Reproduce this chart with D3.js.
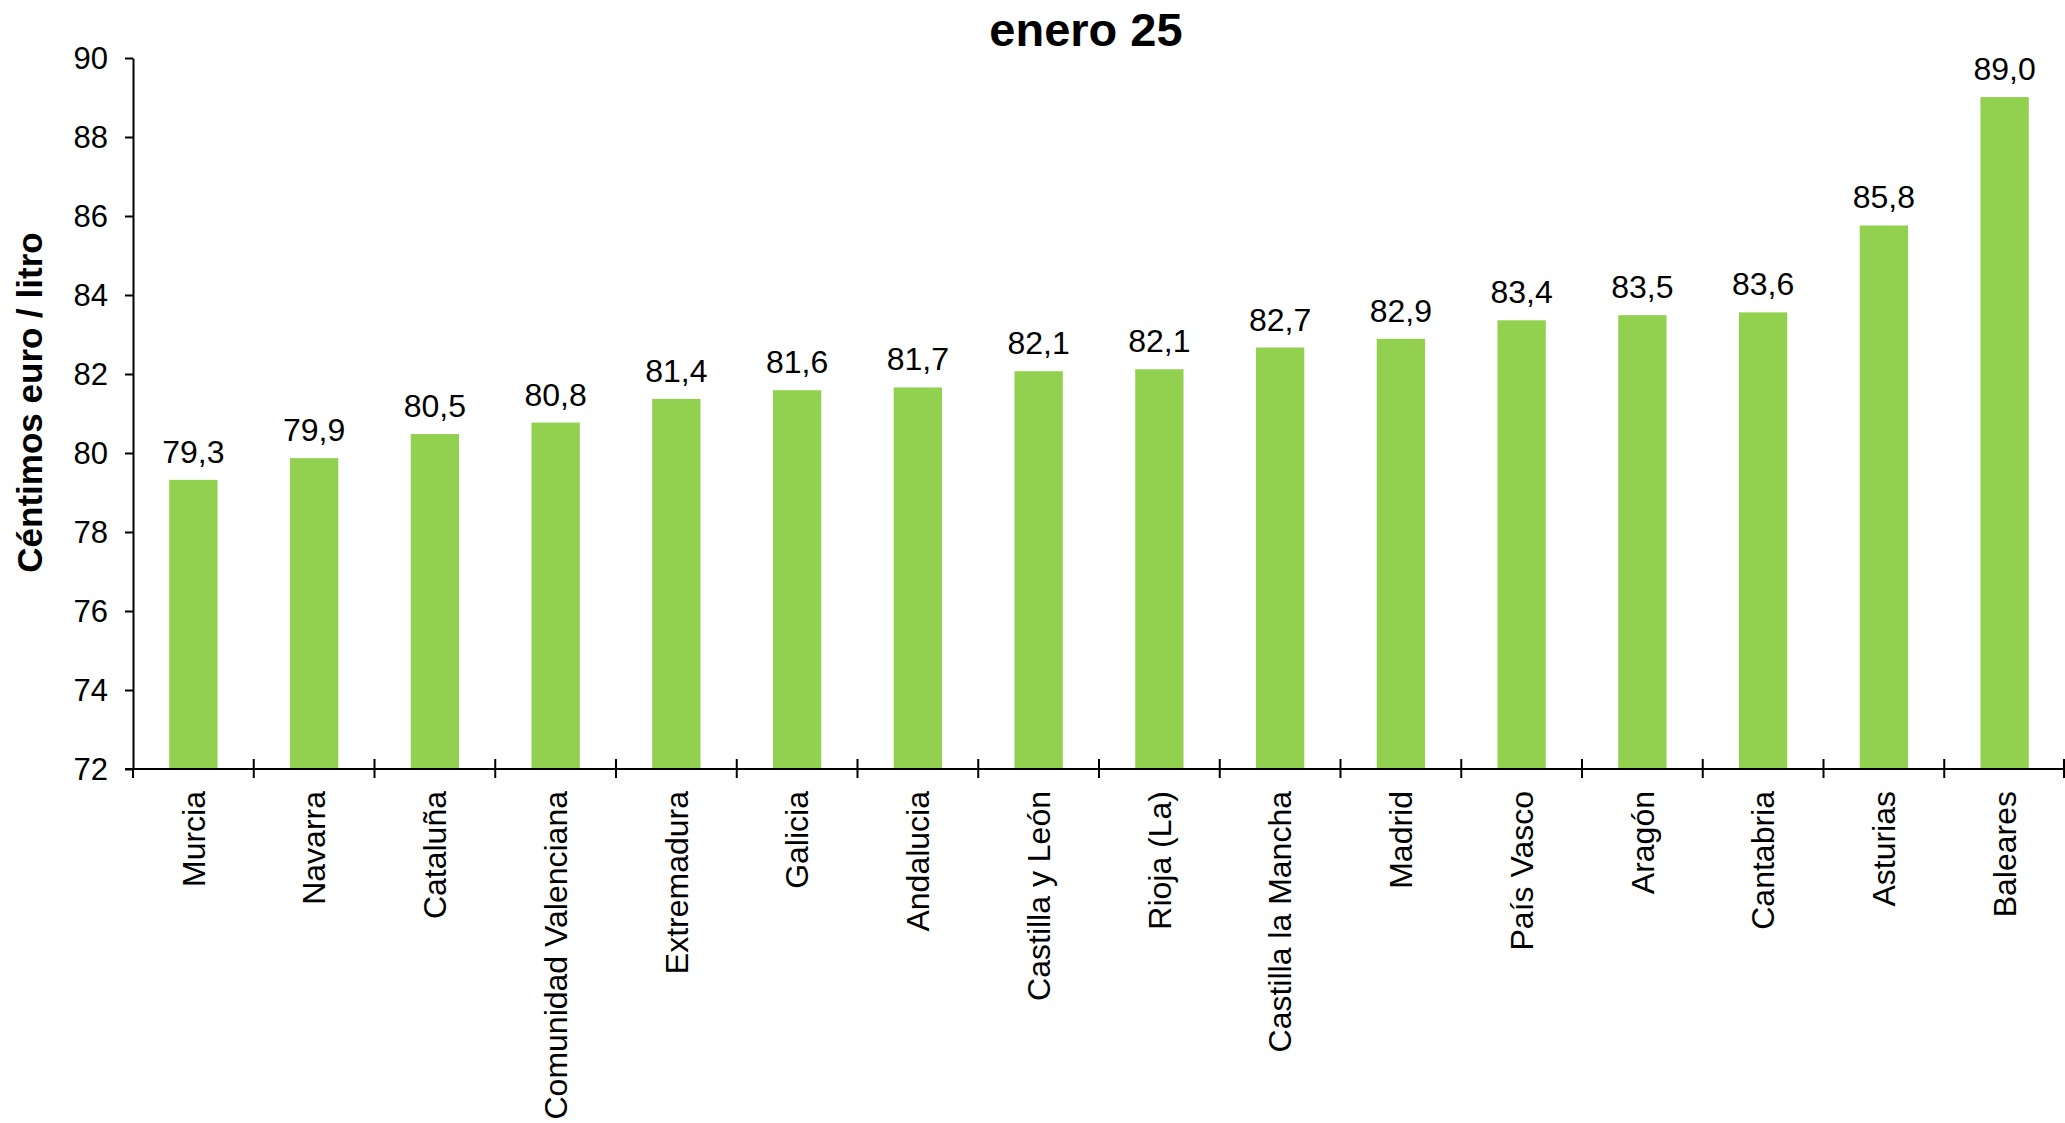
<!DOCTYPE html>
<html>
<head>
<meta charset="utf-8">
<script src="https://cdn.jsdelivr.net/npm/d3@7"></script>
<style>
    body { margin: 0; background: #fff; }
    svg { display: block; }
    text { font-family: "Liberation Sans", Arial, sans-serif; fill: #000; }
</style>
</head>
<body>
<div id="chart"></div>
<script>
var regions = ['Murcia', 'Navarra', 'Cataluña', 'Comunidad Valenciana', 'Extremadura', 'Galicia',
    'Andalucia', 'Castilla y León', 'Rioja (La)', 'Castilla la Mancha', 'Madrid', 'País Vasco',
    'Aragón', 'Cantabria', 'Asturias', 'Baleares'];
var prices = [79.32, 79.87, 80.48, 80.77, 81.37, 81.59, 81.66, 82.07, 82.12, 82.67, 82.89, 83.36,
    83.49, 83.56, 85.76, 89.01];
var yTicks = [72, 74, 76, 78, 80, 82, 84, 86, 88, 90];
var title = 'enero 25';
var yTitle = 'Céntimos euro / litro';

var width = 2065,
    height = 1123,
    margin = { top: 58, right: 0, bottom: 354, left: 133 };

var svg = d3.select('#chart').append('svg')
    .attr('width', width)
    .attr('height', height);

var x = d3.scaleBand()
    .domain(regions)
    .range([margin.left, width - margin.right])
    .paddingInner(0)
    .paddingOuter(0);

var y = d3.scaleLinear()
    .domain([72, 90])
    .range([height - margin.bottom, margin.top]);

var barWidth = x.bandwidth() * 0.4;

var fmt = function (v) {
    return v.toFixed(1).replace('.', ',');
};

// bars
svg.append('g')
    .attr('class', 'bars')
    .selectAll('rect')
    .data(prices)
    .enter().append('rect')
    .attr('x', function (d, i) { return x(regions[i]) + (x.bandwidth() - barWidth) / 2; })
    .attr('y', function (d) { return y(d); })
    .attr('width', barWidth)
    .attr('height', function (d) { return y(72) - y(d); })
    .style('fill', '#92d050');

// value labels
svg.append('g')
    .attr('class', 'labels')
    .selectAll('text')
    .data(prices)
    .enter().append('text')
    .attr('x', function (d, i) { return x(regions[i]) + x.bandwidth() / 2; })
    .attr('y', function (d) { return y(d) - 17; })
    .attr('text-anchor', 'middle')
    .style('font-size', '32px')
    .text(fmt);

// y axis
var yAxis = svg.append('g')
    .attr('transform', 'translate(' + margin.left + ',0)')
    .call(d3.axisLeft(y).tickValues(yTicks).tickSize(8).tickPadding(17).tickSizeOuter(0));
yAxis.selectAll('text').style('font-size', '31px').attr('dy', '0.35em');
yAxis.selectAll('line, path').attr('stroke', '#000').attr('stroke-width', 2);

// x axis
var xAxis = svg.append('g')
    .attr('transform', 'translate(0,' + y(72) + ')')
    .call(d3.axisBottom(x).tickSize(0).tickSizeOuter(0));
xAxis.select('.domain').attr('stroke', '#000').attr('stroke-width', 2)
    .attr('d', 'M' + (margin.left - 8) + ',0H' + (width - margin.right));
xAxis.selectAll('.tick text')
    .style('font-size', '32px')
    .attr('text-anchor', 'end')
    .attr('transform', 'rotate(-90)')
    .attr('x', -22)
    .attr('y', 0)
    .attr('dy', '0.35em');

// band separators crossing the x axis
var bounds = regions.map(function (r) { return x(r); }).concat([x.range()[1] - 1]);
xAxis.selectAll('.sep')
    .data(bounds)
    .enter().append('line')
    .attr('class', 'sep')
    .attr('x1', function (d) { return d; })
    .attr('x2', function (d) { return d; })
    .attr('y1', function (d, i) { return i == 0 ? 0 : -10; })
    .attr('y2', 9)
    .attr('stroke', '#000')
    .attr('stroke-width', 2);

// title
svg.append('text')
    .attr('x', 1086)
    .attr('y', 46)
    .attr('text-anchor', 'middle')
    .style('font-size', '47px')
    .style('font-weight', 'bold')
    .text(title);

// y axis title
svg.append('text')
    .attr('transform', 'translate(42,' + ((margin.top + y(72)) / 2 - 11) + ') rotate(-90)')
    .attr('text-anchor', 'middle')
    .style('font-size', '35px')
    .style('font-weight', 'bold')
    .text(yTitle);
</script>
</body>
</html>
